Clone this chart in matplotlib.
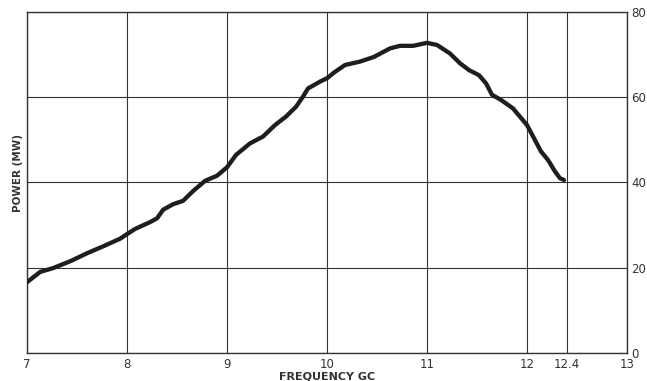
import matplotlib
matplotlib.use("Agg")
import matplotlib.pyplot as plt

# power vs frequency
freq = [7.0, 7.13, 7.26, 7.43, 7.60, 7.76, 7.93, 8.0, 8.08, 8.23, 8.30, 8.36,
        8.46, 8.56, 8.66, 8.78, 8.90, 9.0, 9.09, 9.23, 9.36, 9.48, 9.59, 9.69,
        9.76, 9.81, 9.93, 10.0, 10.08, 10.18, 10.33, 10.47, 10.63, 10.73, 10.86,
        11.0, 11.1, 11.23, 11.33, 11.42, 11.52, 11.59, 11.65, 11.74, 11.86, 12.0,
        12.07, 12.14, 12.21, 12.28, 12.33, 12.37]
power = [16.6, 19.0, 19.9, 21.5, 23.4, 25.0, 26.8, 27.9, 29.1, 30.7, 31.6, 33.6,
         34.9, 35.7, 38.0, 40.4, 41.6, 43.6, 46.5, 49.2, 50.8, 53.5, 55.5, 57.8,
         60.2, 62.1, 63.7, 64.5, 66.0, 67.6, 68.4, 69.5, 71.5, 72.1, 72.1,
         72.8, 72.3, 70.3, 68.0, 66.4, 65.2, 63.3, 60.6, 59.4, 57.4, 53.5,
         50.4, 47.3, 45.3, 42.6, 41.0, 40.6]

xticks = [7, 8, 9, 10, 11, 12, 12.4, 13]
xtick_labels = ["7", "8", "9", "10", "11", "12", "12.4", "13"]
yticks = [0, 20, 40, 60, 80]

INK = "#1e1e1e"

fig = plt.figure(figsize=(6.47, 3.81), dpi=100)
ax = fig.add_axes([0.042, 0.074, 0.927, 0.894])
ax.set_xlim(7, 13)
ax.set_ylim(0, 80)

ax.plot(freq, power, color=INK, linewidth=3.1, solid_capstyle="round",
        solid_joinstyle="round", zorder=3)

ax.set_xticks(xticks)
ax.set_xticklabels(xtick_labels)
ax.set_yticks(yticks)
ax.yaxis.tick_right()
ax.tick_params(axis="both", length=0, labelsize=8.5, colors="#333")
ax.tick_params(axis="x", pad=4)
ax.tick_params(axis="y", pad=3)
ax.grid(True, color="#333", linewidth=0.8)
for s in ax.spines.values():
    s.set_color("#333")
    s.set_linewidth(1.0)

ax.set_xlabel("FREQUENCY GC", fontsize=8, fontweight="bold", color="#333",
              labelpad=0)
fig.text(0.028, 0.545, "POWER (MW)", rotation=90, ha="center", va="center",
         fontsize=7.5, fontweight="bold", color="#333")

fig.savefig("out.png", dpi=100, facecolor="white")
